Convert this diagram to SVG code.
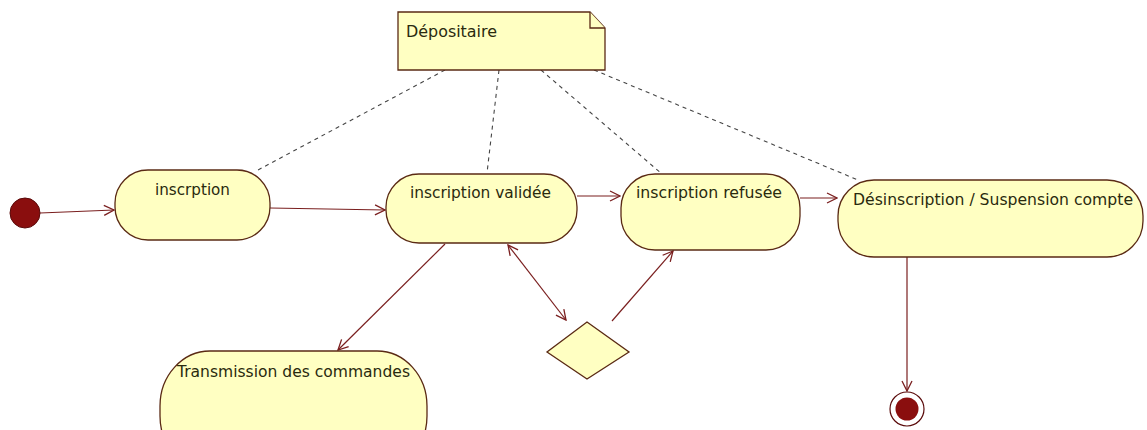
<svg xmlns="http://www.w3.org/2000/svg" width="1147" height="430" viewBox="0 0 1147 430">
  <style>
    .state { fill: #ffffc2; stroke: #5a2a14; stroke-width: 1.3; }
    .lbl { font-family: "DejaVu Sans", "Liberation Sans", sans-serif; font-size: 15px; fill: #2a2a0e; }
    .edge { fill: none; stroke: #7a1f1f; stroke-width: 1.2; }
    .dash { fill: none; stroke: #444; stroke-width: 1.1; stroke-dasharray: 4 4; }
  </style>
  <defs>
    <marker id="open" viewBox="0 0 12 12" refX="11" refY="6" markerWidth="12" markerHeight="12" markerUnits="userSpaceOnUse" orient="auto-start-reverse">
      <path d="M1,1 L11,6 L1,11" fill="none" stroke="#7a1f1f" stroke-width="1.3"/>
    </marker>
  </defs>
  <rect width="1147" height="430" fill="#ffffff"/>

  <!-- note anchors -->
  <g id="note-links">
    <path class="dash" d="M445,70 L258,170"/>
    <path class="dash" d="M499,70 L487,173"/>
    <path class="dash" d="M541,70 L662,174"/>
    <path class="dash" d="M594,70 L858,180"/>
  </g>

  <g id="note">
    <path class="state" d="M398,12 L590,12 L605,28 L605,70 L398,70 Z"/>
    <path class="state" d="M590,12 L590,28 L605,28"/>
    <text class="lbl" x="406" y="37" textLength="91" lengthAdjust="spacingAndGlyphs">Dépositaire</text>
  </g>

  <g id="connectors">
    <path class="edge" d="M40,213 L114,210" marker-end="url(#open)"/>
    <path class="edge" d="M270,208 L385,210" marker-end="url(#open)"/>
    <path class="edge" d="M577,196 L620,196" marker-end="url(#open)"/>
    <path class="edge" d="M800,198 L837,198" marker-end="url(#open)"/>
    <path class="edge" d="M445,244 L338,350" marker-end="url(#open)"/>
    <path class="edge" d="M508,245 L566,320" marker-start="url(#open)" marker-end="url(#open)"/>
    <path class="edge" d="M612,321 L673,251" marker-end="url(#open)"/>
    <path class="edge" d="M907,257 L907,391" marker-end="url(#open)"/>
  </g>

  <g id="initial">
    <circle cx="25" cy="213" r="15" fill="#8a0e0e" stroke="#5a0a0a" stroke-width="1"/>
  </g>

  <g id="inscrption">
    <rect class="state" x="115" y="170" width="155" height="70" rx="33" ry="33"/>
    <text class="lbl" x="192.5" y="195" text-anchor="middle" textLength="75" lengthAdjust="spacingAndGlyphs">inscrption</text>
  </g>

  <g id="inscription-validee">
    <rect class="state" x="386" y="174" width="191" height="69" rx="33" ry="33"/>
    <text class="lbl" x="480.5" y="198" text-anchor="middle" textLength="141" lengthAdjust="spacingAndGlyphs">inscription validée</text>
  </g>

  <g id="inscription-refusee">
    <rect class="state" x="621" y="174" width="179" height="76" rx="34" ry="34"/>
    <text class="lbl" x="709" y="198" text-anchor="middle" textLength="146" lengthAdjust="spacingAndGlyphs">inscription refusée</text>
  </g>

  <g id="desinscription">
    <rect class="state" x="838" y="180" width="305" height="77" rx="36" ry="36"/>
    <text class="lbl" x="853" y="205" textLength="280" lengthAdjust="spacingAndGlyphs">Désinscription / Suspension compte</text>
  </g>

  <g id="transmission">
    <rect class="state" x="160" y="351" width="267" height="120" rx="50" ry="55"/>
    <text class="lbl" x="177" y="377" textLength="233" lengthAdjust="spacingAndGlyphs">Transmission des commandes</text>
  </g>

  <g id="decision">
    <path class="state" d="M587,322 L629,352 L587,379 L547,352 Z"/>
  </g>

  <g id="final">
    <circle cx="907" cy="409" r="17" fill="#ffffff" stroke="#5a0a0a" stroke-width="1.2"/>
    <circle cx="907" cy="409" r="11.5" fill="#8a0e0e"/>
  </g>
</svg>
